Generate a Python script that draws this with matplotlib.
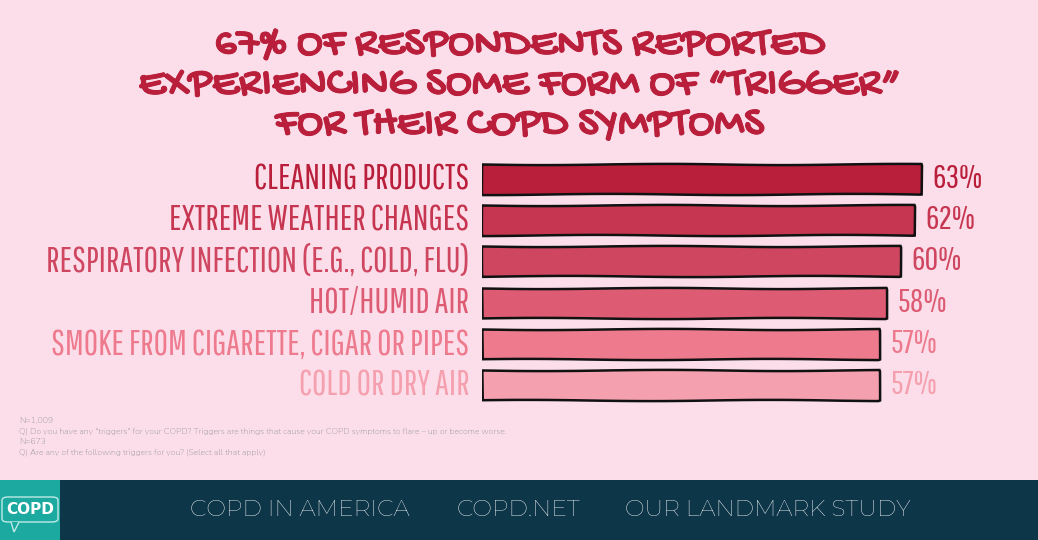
import matplotlib.pyplot as plt
import matplotlib.patheffects as pe
from matplotlib.patches import Rectangle, FancyBboxPatch, Polygon

# data
categories = ["CLEANING PRODUCTS", "EXTREME WEATHER CHANGES",
              "RESPIRATORY INFECTION (E.G., COLD, FLU)", "HOT/HUMID AIR",
              "SMOKE FROM CIGARETTE, CIGAR OR PIPES", "COLD OR DRY AIR"]
values = [63, 62, 60, 58, 57, 57]
bar_colors = ["#B91F3B", "#C73651", "#CF4660", "#DD5C74", "#EE7A8E", "#F5A0AF"]

title_lines = ["67% OF RESPONDENTS REPORTED",
               "EXPERIENCING SOME FORM OF \u201cTRIGGER\u201d",
               "FOR THEIR COPD SYMPTOMS"]
notes = ["N=1,009",
         "Q) Do you have any \"triggers\" for your COPD? Triggers are things that cause your COPD symptoms to flare \u2013 up or become worse.",
         "N=673",
         "Q) Are any of the following triggers for you? (Select all that apply)"]
footer_links = ["COPD IN AMERICA", "COPD.NET", "OUR LANDMARK STUDY"]

W, H = 1038, 540
bg = "#FCDEEA"
narrow = ["Pathway Gothic One", "League Gothic", "Oswald", "Barlow Condensed", "DejaVu Sans"]
hand = ["Gochi Hand", "Patrick Hand", "Indie Flower", "DejaVu Sans"]
geo = ["Montserrat", "Raleway", "Lato", "DejaVu Sans"]
small = ["Nunito Sans", "Lato", "DejaVu Sans"]

fig = plt.figure(figsize=(W / 100, H / 100), dpi=100)
fig.patch.set_facecolor(bg)

# title (stroke thickens the thin hand font a little)
for i, line in enumerate(title_lines):
    fig.text(0.5, 1 - (47 + i * 40) / H, line, ha="center", va="center",
             fontsize=31, color="#B91F3B", family=hand,
             path_effects=[pe.withStroke(linewidth=0.7, foreground="#B91F3B")])

# bars
ax = fig.add_axes([482 / W, (H - 406) / H, 488 / W, 248 / H])
ax.set_facecolor(bg)
y = list(range(len(values)))
bars = ax.barh(y, values, height=0.72, color=bar_colors, edgecolor="#111111", linewidth=1.8)
for b in bars:
    b.set_sketch_params(0.6, 250, 1.5)
ax.set_xlim(0, 70)
ax.set_ylim(5.5, -0.5)
ax.axis("off")

for i, (cat, v, c) in enumerate(zip(categories, values, bar_colors)):
    ax.annotate(cat, (0, i), xytext=(-9, 0), textcoords="offset points",
                ha="right", va="center", fontsize=25, color=c, family=narrow)
    ax.annotate(f"{v}%", (v, i), xytext=(8, 0), textcoords="offset points",
                ha="left", va="center", fontsize=24, color=c, family=narrow)

# footnotes
for yy, t in zip([420, 431, 441, 452], notes):
    fig.text(19 / W, 1 - yy / H, t, ha="left", va="center", fontsize=6.2,
             color="#939393", family=small)

# footer band
fig.patches.append(Rectangle((0, 0), 1, 60 / H, transform=fig.transFigure,
                             facecolor="#0E3649", edgecolor="none"))
fig.patches.append(Rectangle((0, 0), 60 / W, 60 / H, transform=fig.transFigure,
                             facecolor="#1BA9A0", edgecolor="none"))
fig.patches.append(FancyBboxPatch((2 / W, (H - 522) / H), 56 / W, 25 / H,
                                  boxstyle="round,pad=0,rounding_size=0.006",
                                  transform=fig.transFigure, facecolor="none",
                                  edgecolor="#BFEAE6", linewidth=1))
fig.patches.append(Polygon([(11 / W, (H - 522) / H), (14 / W, (H - 532) / H), (19 / W, (H - 522) / H)],
                           closed=False, transform=fig.transFigure, facecolor="#1BA9A0",
                           edgecolor="#BFEAE6", linewidth=1))
fig.text(30 / W, 1 - 509 / H, "COPD", ha="center", va="center", fontsize=11,
         fontweight="bold", color="white", family="DejaVu Sans")

for x, t in zip([190, 457, 625], footer_links):
    fig.text(x / W, 1 - 510 / H, t, ha="left", va="center", fontsize=16.8,
             color="white", family=geo, fontweight="light")

fig.savefig("out.png", dpi=100, facecolor=bg)
